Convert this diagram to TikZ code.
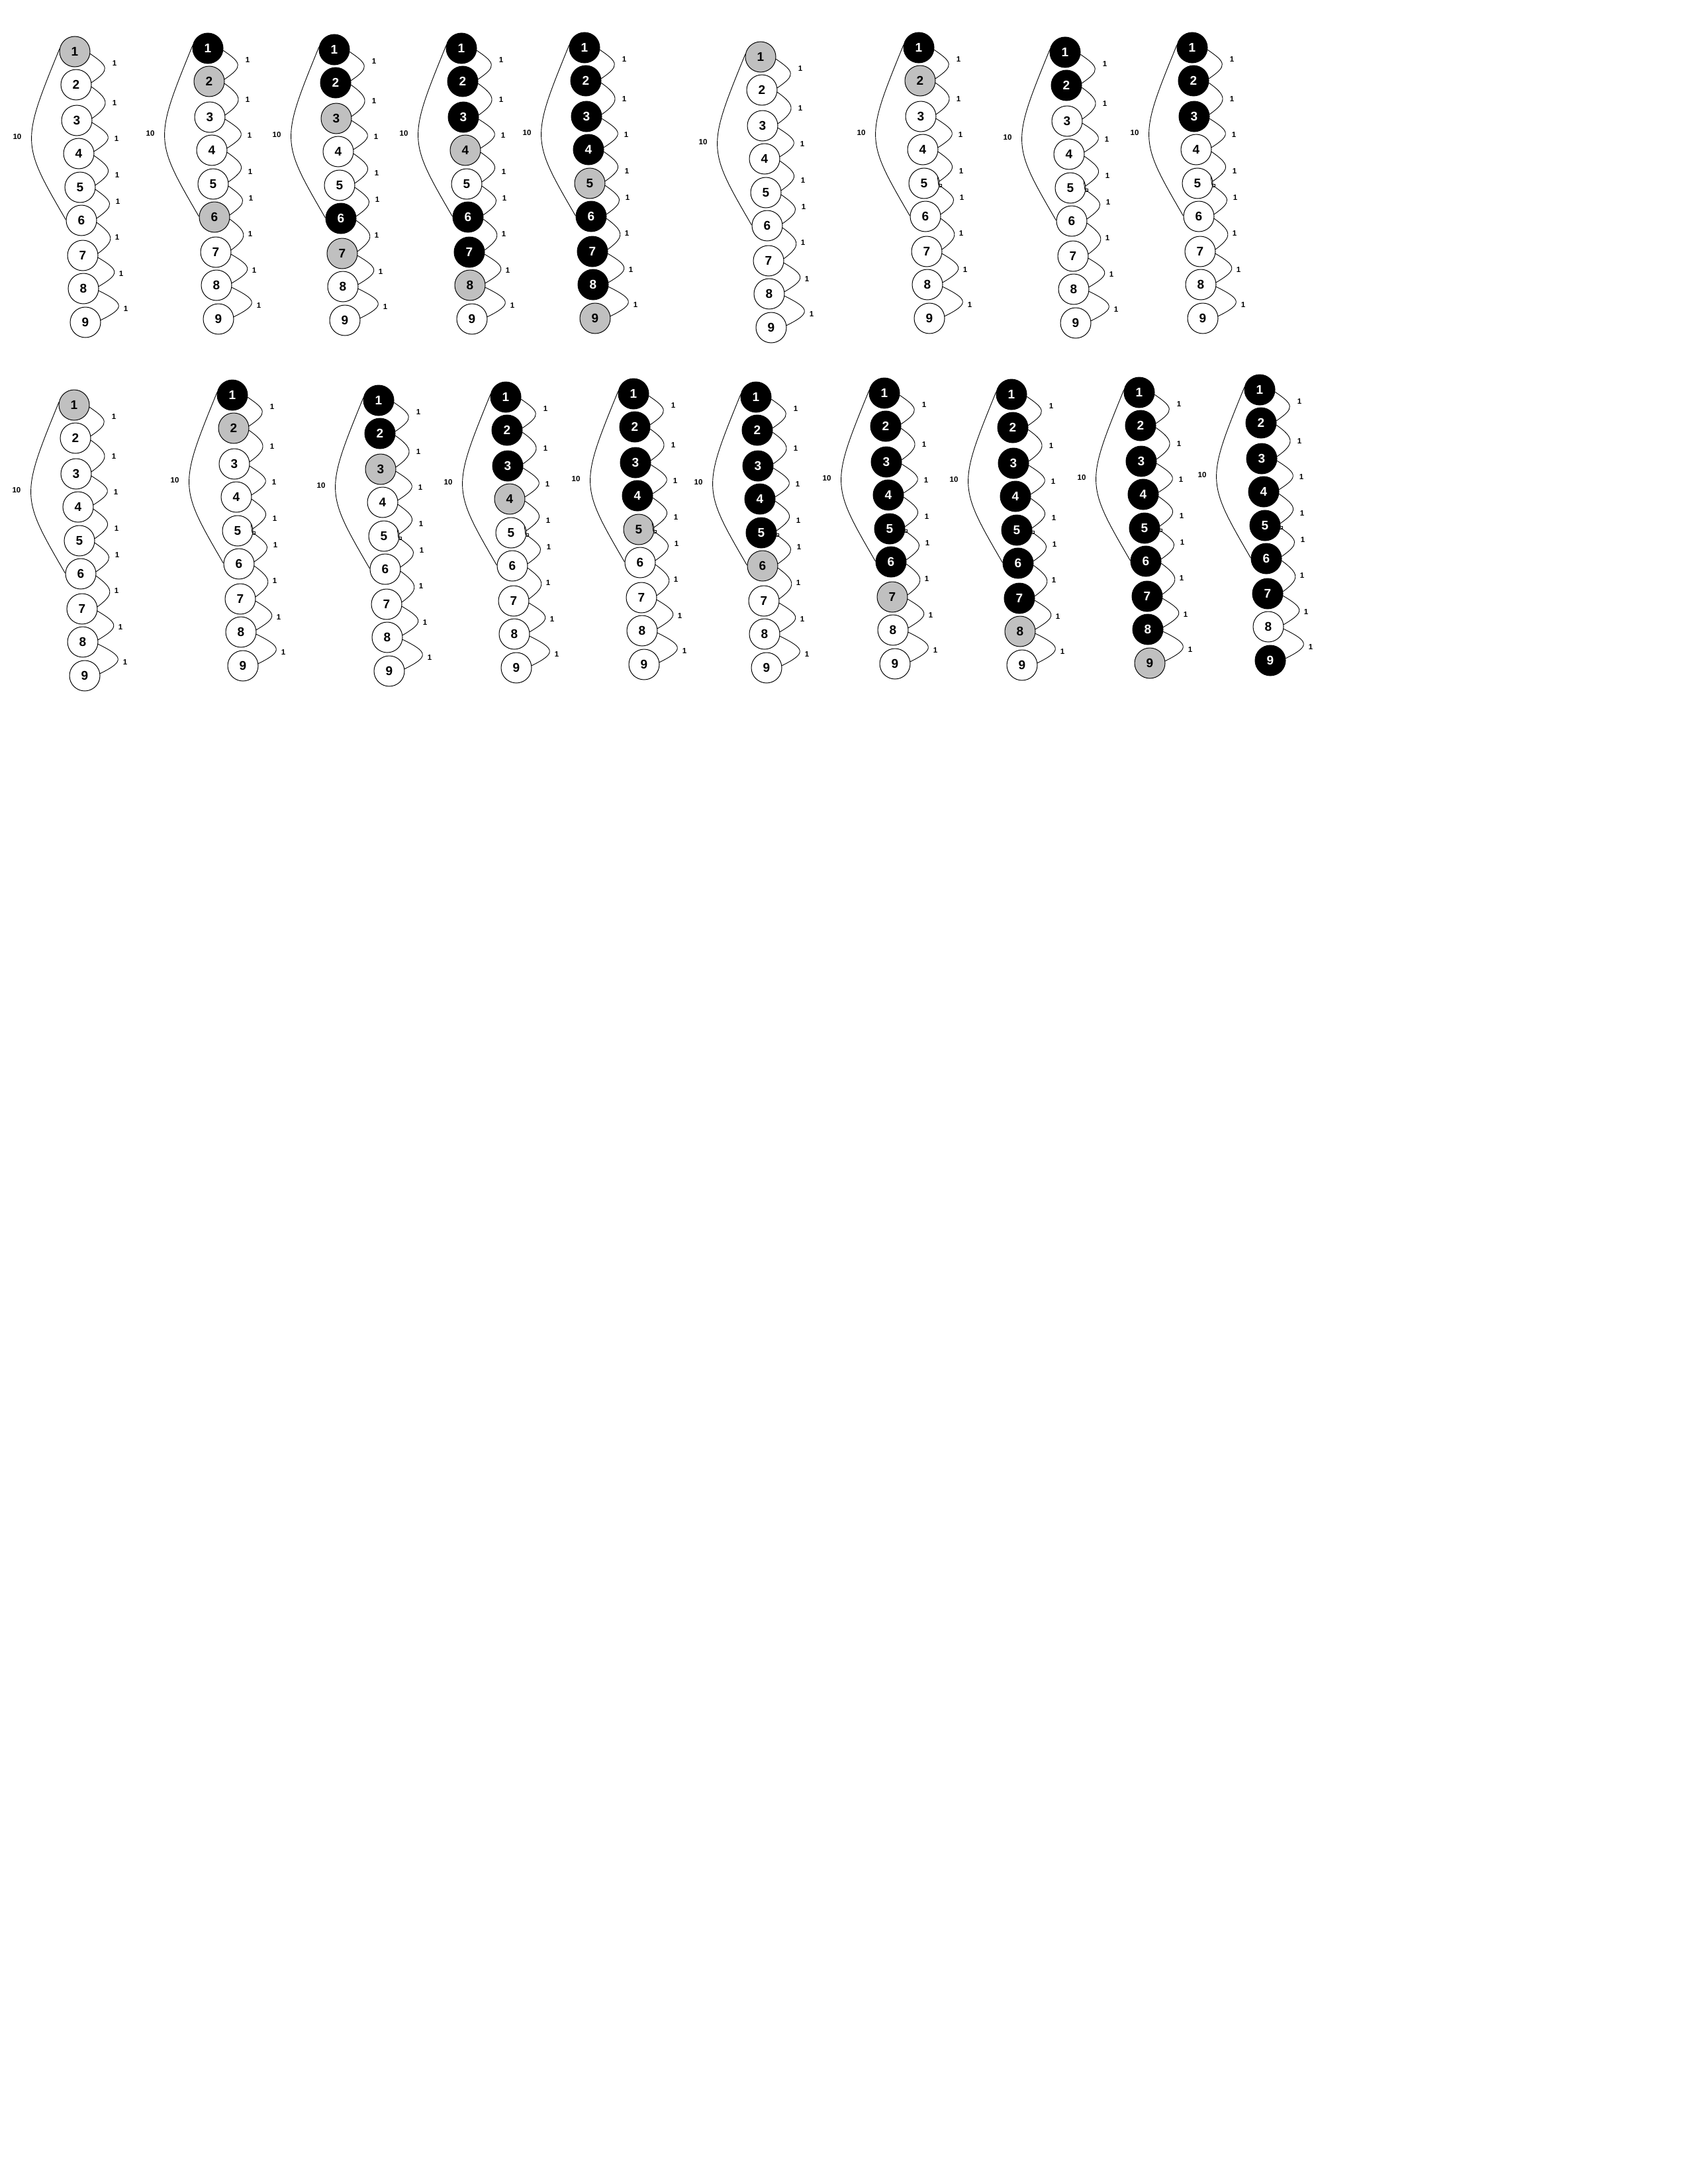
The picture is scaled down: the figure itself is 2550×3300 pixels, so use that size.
\documentclass[tikz,border=0pt]{standalone}
\usepackage{fontspec}
\setmainfont{Liberation Sans}
\definecolor{fcb}{RGB}{0,0,0}
\definecolor{fcg}{RGB}{192,192,192}
\definecolor{fcw}{RGB}{255,255,255}
\definecolor{tcb}{RGB}{255,255,255}
\definecolor{tcg}{RGB}{0,0,0}
\definecolor{tcw}{RGB}{0,0,0}
\newcommand{\gph}[5]{%
  \foreach \f [count=\i] in {#4} {
    \pgfmathsetmacro\dx{{0,2,3,6,8,10,12,13,16}[\i-1]}
    \pgfmathsetmacro\dy{{0,50,104,154,205,255,308,358,409}[\i-1]}
    \node[nd=\f] (#1-\i) at ({#2+\dx},{#3+\dy}) {\i};
  }
  \foreach \i [evaluate=\i as \j using int(\i+1)] in {1,...,8} {
    \pgfmathsetmacro\cx{{28,27,30,27,27,26,32,38}[\i-1]}
    \pgfmathsetmacro\lx{{60,60,63,64,65,64,70,77}[\i-1]}
    \pgfmathsetmacro\ly{{18,78,132,187,227,281,336,389}[\i-1]}
    \draw[lnk] (#1-\i.-8) .. controls +(\cx,19) and +(\cx,-19) .. (#1-\j.8);
    \node[lbl] (#1-l\i) at ({#2+\lx},{#3+\ly}) {1};
  }
  \draw[lnk] (#1-1.170) .. controls ({#2-81},{#3+138}) and ({#2-81},{#3+138}) .. (#1-6.178);
  \node[lbl] (#1-lten) at ({#2-87},{#3+129}) {10};
  \ifnum#5=1
    \draw[mk] (#1-5.center) ++(20,-10) -- ++(2,13);
    \draw[mk] (#1-5.center) ++(22,1) rectangle ++(4,4);
  \fi
}
\begin{document}
\begin{tikzpicture}[x=1pt,y=-1pt,
  nd/.style={circle,draw=black,line width=1pt,minimum size=46pt,inner sep=0pt,
    fill=fc#1,text=tc#1,font=\fontsize{19}{19}\selectfont\bfseries},
  lnk/.style={draw=black,line width=0.9pt},
  lbl/.style={font=\fontsize{11.5}{12}\selectfont\bfseries,inner sep=0pt,text=black},
  mk/.style={draw=black,line width=0.8pt}]
\fill[white] (0,0) rectangle (2550,3300);
\useasboundingbox (0,0) rectangle (2550,3300);
% top row
\gph{a1}{113}{78}{g,w,w,w,w,w,w,w,w}{0}
\gph{a2}{314}{73}{b,g,w,w,w,g,w,w,w}{0}
\gph{a3}{505}{75}{b,b,g,w,w,b,g,w,w}{0}
\gph{a4}{697}{73}{b,b,b,g,w,b,b,g,w}{0}
\gph{a5}{883}{72}{b,b,b,b,g,b,b,b,g}{0}
\gph{a6}{1149}{86}{g,w,w,w,w,w,w,w,w}{0}
\gph{a7}{1388}{72}{b,g,w,w,w,w,w,w,w}{1}
\gph{a8}{1609}{79}{b,b,w,w,w,w,w,w,w}{1}
\gph{a9}{1801}{72}{b,b,b,w,w,w,w,w,w}{1}
% bottom row
\gph{b1}{112}{612}{g,w,w,w,w,w,w,w,w}{0}
\gph{b2}{351}{597}{b,g,w,w,w,w,w,w,w}{1}
\gph{b3}{572}{605}{b,b,g,w,w,w,w,w,w}{1}
\gph{b4}{764}{600}{b,b,b,g,w,w,w,w,w}{1}
\gph{b5}{957}{595}{b,b,b,b,g,w,w,w,w}{1}
\gph{b6}{1142}{600}{b,b,b,b,b,g,w,w,w}{1}
\gph{b7}{1336}{594}{b,b,b,b,b,b,g,w,w}{1}
\gph{b8}{1528}{596}{b,b,b,b,b,b,b,g,w}{1}
\gph{b9}{1721}{593}{b,b,b,b,b,b,b,b,g}{1}
\gph{b10}{1903}{589}{b,b,b,b,b,b,b,w,b}{1}
\end{tikzpicture}
\end{document}
